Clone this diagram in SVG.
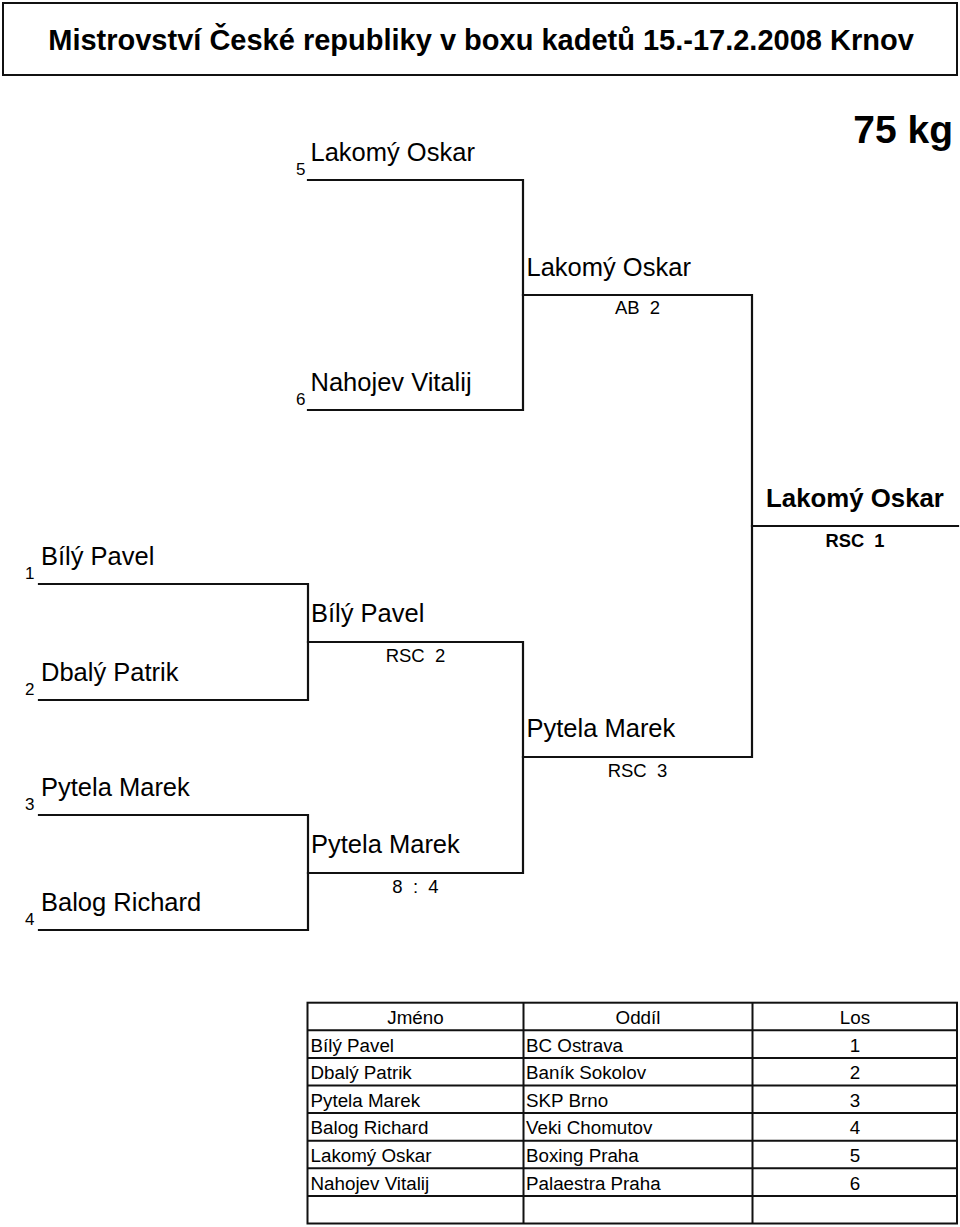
<svg xmlns="http://www.w3.org/2000/svg" width="960" height="1227" viewBox="0 0 960 1227">
<style>
  text { font-family: "Liberation Sans", Arial, Helvetica, sans-serif; fill: #000; }
  .title { font-size: 29px; font-weight: bold; text-anchor: middle; }
  .kg { font-size: 39px; font-weight: bold; text-anchor: end; }
  .name { font-size: 25.5px; }
  .fname { font-size: 25.8px; font-weight: bold; text-anchor: middle; }
  .seed { font-size: 17px; text-anchor: end; }
  .res { font-size: 18.5px; text-anchor: middle; white-space: pre; }
  .fres { font-size: 18.3px; font-weight: bold; text-anchor: middle; white-space: pre; }
  .tb { font-size: 18.8px; }
  .c { text-anchor: middle; }
  .ln { stroke: #111; stroke-width: 2.2; fill: none; stroke-linecap: square; }
  .grid { stroke: #111; stroke-width: 2; fill: none; }
</style>
<rect width="960" height="1227" fill="#fff"/>

<g id="title">
  <rect x="3" y="3" width="954" height="72" class="grid"/>
  <text class="title" x="481" y="50">Mistrovství České republiky v boxu kadetů 15.-17.2.2008 Krnov</text>
</g>
<g id="weight">
  <text class="kg" x="953" y="143">75 kg</text>
</g>

<g id="connectors">
  <path class="ln" d="M39,584 H308 V700 H39"/>
  <path class="ln" d="M39,815 H308 V930 H39"/>
  <path class="ln" d="M308,180 H523 V410 H308"/>
  <path class="ln" d="M308,642 H523 V873 H308"/>
  <path class="ln" d="M523,295 H752 V757 H523"/>
  <path class="ln" d="M752,526 H958"/>
</g>

<g id="entry-5">
  <text class="seed" x="305.5" y="174.5">5</text>
  <text class="name" x="310.5" y="160.5">Lakomý Oskar</text>
</g>
<g id="entry-6">
  <text class="seed" x="305.5" y="404.5">6</text>
  <text class="name" x="310.5" y="390.5">Nahojev Vitalij</text>
</g>
<g id="entry-1">
  <text class="seed" x="34.5" y="578.5">1</text>
  <text class="name" x="41" y="564.5">Bílý Pavel</text>
</g>
<g id="entry-2">
  <text class="seed" x="34.5" y="694.5">2</text>
  <text class="name" x="41" y="680.5">Dbalý Patrik</text>
</g>
<g id="entry-3">
  <text class="seed" x="34.5" y="809.5">3</text>
  <text class="name" x="41" y="795.5">Pytela Marek</text>
</g>
<g id="entry-4">
  <text class="seed" x="34.5" y="924.5">4</text>
  <text class="name" x="41" y="910.5">Balog Richard</text>
</g>

<g id="bout-1-2">
  <text class="name" x="311" y="622">Bílý Pavel</text>
  <text class="res" x="415.5" y="661.5" xml:space="preserve">RSC  2</text>
</g>
<g id="bout-3-4">
  <text class="name" x="311" y="853">Pytela Marek</text>
  <text class="res" x="415.5" y="892.5" xml:space="preserve">8  :  4</text>
</g>
<g id="bout-5-6">
  <text class="name" x="526.5" y="275.5">Lakomý Oskar</text>
  <text class="res" x="637.5" y="314" xml:space="preserve">AB  2</text>
</g>
<g id="bout-semi">
  <text class="name" x="526.5" y="737">Pytela Marek</text>
  <text class="res" x="637.5" y="777" xml:space="preserve">RSC  3</text>
</g>
<g id="final">
  <text class="fname" x="855" y="506.5">Lakomý Oskar</text>
  <text class="fres" x="855" y="546.5" xml:space="preserve">RSC  1</text>
</g>

<g id="table">
  <rect x="307.5" y="1002.7" width="649.5" height="220.8" class="grid"/>
  <path class="grid" d="M523.5,1002.7 V1223.5 M752.5,1002.7 V1223.5
    M307.5,1030.3 H957 M307.5,1057.9 H957 M307.5,1085.5 H957 M307.5,1113.1 H957
    M307.5,1140.7 H957 M307.5,1168.3 H957 M307.5,1195.9 H957"/>
  <text class="tb c" x="415.5" y="1024">Jméno</text>
  <text class="tb c" x="638" y="1024">Oddíl</text>
  <text class="tb c" x="855" y="1024">Los</text>

  <text class="tb" x="310.5" y="1051.6">Bílý Pavel</text>
  <text class="tb" x="526" y="1051.6">BC Ostrava</text>
  <text class="tb c" x="855" y="1051.6">1</text>

  <text class="tb" x="310.5" y="1079.2">Dbalý Patrik</text>
  <text class="tb" x="526" y="1079.2">Baník Sokolov</text>
  <text class="tb c" x="855" y="1079.2">2</text>

  <text class="tb" x="310.5" y="1106.8">Pytela Marek</text>
  <text class="tb" x="526" y="1106.8">SKP Brno</text>
  <text class="tb c" x="855" y="1106.8">3</text>

  <text class="tb" x="310.5" y="1134.4">Balog Richard</text>
  <text class="tb" x="526" y="1134.4">Veki Chomutov</text>
  <text class="tb c" x="855" y="1134.4">4</text>

  <text class="tb" x="310.5" y="1162">Lakomý Oskar</text>
  <text class="tb" x="526" y="1162">Boxing Praha</text>
  <text class="tb c" x="855" y="1162">5</text>

  <text class="tb" x="310.5" y="1189.6">Nahojev Vitalij</text>
  <text class="tb" x="526" y="1189.6">Palaestra Praha</text>
  <text class="tb c" x="855" y="1189.6">6</text>
</g>
</svg>
